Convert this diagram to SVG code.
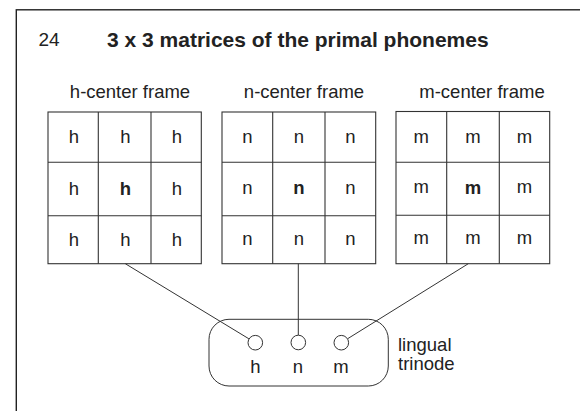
<svg xmlns="http://www.w3.org/2000/svg" width="580" height="411" viewBox="0 0 580 411">
<style>
.t{font-family:"Liberation Sans",Arial,sans-serif;fill:#222;}
.lbl{font-size:18.5px;text-anchor:middle;}
.cell{font-size:18.5px;text-anchor:middle;}
.b{font-weight:bold;}
.grid{fill:none;stroke:#333;stroke-width:1.1;}
.conn{fill:none;stroke:#333;stroke-width:1;}
.node{fill:#fff;stroke:#333;stroke-width:1;}
</style>
<rect width="580" height="411" fill="#fff"/>
<rect x="16.3" y="9.8" width="620" height="460" fill="none" stroke="#222" stroke-width="1.4"/>
<text class="t" x="38.5" y="46" font-size="19">24</text>
<text class="t b" x="107" y="47" font-size="21">3 x 3 matrices of the primal phonemes</text>

<g id="h-frame">
<text class="t lbl" x="130" y="97.7">h-center frame</text>
<rect class="grid" x="48" y="112" width="153.3" height="151.7"/>
<path class="grid" d="M98.3 112V263.7M151 112V263.7M48 162.3H201.3M48 215.7H201.3"/>
<g class="t cell">
<text x="74" y="142.7">h</text><text x="125.5" y="142.7">h</text><text x="177" y="142.7">h</text>
<text x="74" y="195">h</text><text x="125.5" y="195" class="b">h</text><text x="177" y="195">h</text>
<text x="74" y="245.7">h</text><text x="125.5" y="245.7">h</text><text x="177" y="245.7">h</text>
</g>
</g>

<g id="n-frame">
<text class="t lbl" x="304" y="97.7">n-center frame</text>
<rect class="grid" x="222" y="112" width="153.7" height="151.7"/>
<path class="grid" d="M272.7 112V263.7M325 112V263.7M222 162.3H375.7M222 215.7H375.7"/>
<g class="t cell">
<text x="247.5" y="142.7">n</text><text x="299" y="142.7">n</text><text x="350.5" y="142.7">n</text>
<text x="247.5" y="193.5">n</text><text x="299" y="193.5" class="b">n</text><text x="350.5" y="193.5">n</text>
<text x="247.5" y="244.5">n</text><text x="299" y="244.5">n</text><text x="350.5" y="244.5">n</text>
</g>
</g>

<g id="m-frame">
<text class="t lbl" x="482" y="97.7">m-center frame</text>
<rect class="grid" x="396" y="111.5" width="153.7" height="152.2"/>
<path class="grid" d="M446.7 111.5V263.7M499.3 111.5V263.7M396 162.3H549.7M396 215.3H549.7"/>
<g class="t cell">
<text x="421.3" y="142.7">m</text><text x="473" y="142.7">m</text><text x="524.5" y="142.7">m</text>
<text x="421.3" y="193">m</text><text x="473" y="194" class="b">m</text><text x="524.5" y="193">m</text>
<text x="421.3" y="243.5">m</text><text x="473" y="243.5">m</text><text x="524.5" y="243.5">m</text>
</g>
</g>

<g id="connectors">
<line class="conn" x1="125.3" y1="263.7" x2="248.9" y2="338.8"/>
<line class="conn" x1="298.3" y1="263.7" x2="298.3" y2="335"/>
<line class="conn" x1="468.3" y1="263.7" x2="347.7" y2="338.7"/>
</g>

<g id="trinode">
<rect x="209" y="319.3" width="179.3" height="66.7" rx="20" ry="20" fill="none" stroke="#333" stroke-width="1"/>
<circle class="node" cx="255.3" cy="342.7" r="7.3"/>
<circle class="node" cx="298.3" cy="342.5" r="7.3"/>
<circle class="node" cx="341.3" cy="342.7" r="7.3"/>
<text class="t cell" x="255.3" y="372.7">h</text>
<text class="t cell" x="298" y="372.7">n</text>
<text class="t cell" x="341" y="372.7">m</text>
<text class="t" x="398" y="350.7" font-size="18.5">lingual</text>
<text class="t" x="398" y="370" font-size="18.5">trinode</text>
</g>
</svg>
